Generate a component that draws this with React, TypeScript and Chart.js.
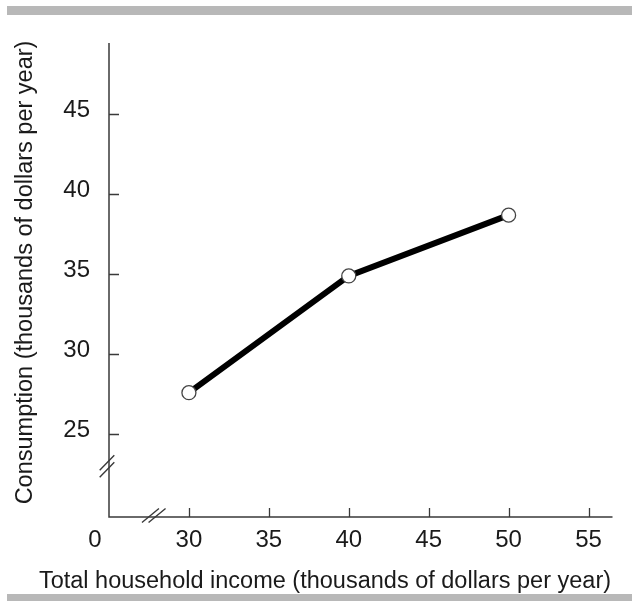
import React, { useEffect, useRef } from 'react';
import { Chart, registerables } from 'chart.js';

Chart.register(...registerables);

// ---- data ----
const incomeValues = [30, 40, 50];
const consumptionValues = [27.6, 34.9, 38.7];
const xTickValues = [30, 35, 40, 45, 50, 55];
const xTickLabels = ['30', '35', '40', '45', '50', '55'];
const yTickValues = [25, 30, 35, 40, 45];
const yTickLabels = ['25', '30', '35', '40', '45'];
const originLabel = '0';
const xBreakValue = 27.8;
const yBreakValue = 23;
const xTitle = 'Total household income (thousands of dollars per year)';
const yTitle = 'Consumption (thousands of dollars per year)';

const FONT_FAMILY = '"Liberation Sans", Arial, sans-serif';
const AXIS_COLOR = '#3a3a3a';
const TEXT_COLOR = '#1a1a1a';

const econAxesPlugin = {
  id: 'econAxes',
  beforeDraw(chart: any) {
    const ctx = chart.ctx as CanvasRenderingContext2D;
    ctx.save();
    ctx.fillStyle = '#ffffff';
    ctx.fillRect(0, 0, chart.width, chart.height);
    ctx.fillStyle = '#b8b8b8';
    ctx.fillRect(7, 6, chart.width - 7, 9);
    ctx.fillRect(7, chart.height - 7, chart.width - 7, 7);
    ctx.restore();
  },
  beforeDatasetsDraw(chart: any) {
    const ctx = chart.ctx as CanvasRenderingContext2D;
    const a = chart.chartArea;
    const xs = chart.scales.x;
    const ys = chart.scales.y;
    ctx.save();

    // axis lines
    ctx.strokeStyle = AXIS_COLOR;
    ctx.lineWidth = 1.5;
    ctx.beginPath();
    ctx.moveTo(a.left, a.top);
    ctx.lineTo(a.left, a.bottom);
    ctx.lineTo(a.right, a.bottom);
    ctx.stroke();

    // tick marks (inward)
    ctx.lineWidth = 1.3;
    ctx.beginPath();
    yTickValues.forEach((v) => {
      const py = Math.round(ys.getPixelForValue(v)) + 0.5;
      ctx.moveTo(a.left, py);
      ctx.lineTo(a.left + 10, py);
    });
    xTickValues.forEach((v) => {
      const px = Math.round(xs.getPixelForValue(v)) + 0.5;
      ctx.moveTo(px, a.bottom);
      ctx.lineTo(px, a.bottom - 9);
    });
    ctx.stroke();

    // axis break marks
    ctx.lineWidth = 1.4;
    ctx.beginPath();
    const bx = xs.getPixelForValue(xBreakValue);
    const by = a.bottom - 1.5;
    [-3.3, 3.3].forEach((o) => {
      ctx.moveTo(bx + o - 8.5, by + 7);
      ctx.lineTo(bx + o + 8.5, by - 7);
    });
    const ybx = a.left - 2;
    const yby = ys.getPixelForValue(yBreakValue);
    [-3.5, 3.5].forEach((o) => {
      ctx.moveTo(ybx - 7.3, yby + o + 7.5);
      ctx.lineTo(ybx + 7.3, yby + o - 7.5);
    });
    ctx.stroke();

    // tick labels
    ctx.fillStyle = TEXT_COLOR;
    ctx.font = `24px ${FONT_FAMILY}`;
    ctx.textBaseline = 'alphabetic';
    ctx.textAlign = 'center';
    xTickValues.forEach((v, i) => {
      ctx.fillText(xTickLabels[i], xs.getPixelForValue(v), a.bottom + 30);
    });
    ctx.fillText(originLabel, a.left - 14, a.bottom + 30);
    ctx.textAlign = 'right';
    yTickValues.forEach((v, i) => {
      ctx.fillText(yTickLabels[i], a.left - 19, ys.getPixelForValue(v) + 3);
    });

    // titles
    ctx.font = `23.5px ${FONT_FAMILY}`;
    ctx.textAlign = 'center';
    ctx.fillText(xTitle, 325, a.bottom + 71);
    ctx.save();
    ctx.translate(32, 272.5);
    ctx.rotate(-Math.PI / 2);
    ctx.fillText(yTitle, 0, 0);
    ctx.restore();

    ctx.restore();
  },
};

export default function App() {
  const canvasRef = useRef<HTMLCanvasElement | null>(null);

  useEffect(() => {
    const canvas = canvasRef.current;
    if (!canvas) return;
    const chart = new Chart(canvas, {
      type: 'scatter',
      data: {
        datasets: [
          {
            data: incomeValues.map((x, i) => ({ x, y: consumptionValues[i] })),
            showLine: true,
            borderColor: '#000000',
            borderWidth: 6,
            pointRadius: 7,
            pointHoverRadius: 7,
            pointBackgroundColor: '#ffffff',
            pointBorderColor: '#444444',
            pointBorderWidth: 1.3,
            clip: false as any,
          } as any,
        ],
      },
      options: {
        animation: false,
        responsive: false,
        maintainAspectRatio: false,
        devicePixelRatio: 1,
        events: [],
        layout: { padding: { left: 109, right: 19.5, top: 43, bottom: 84 } },
        plugins: { legend: { display: false }, tooltip: { enabled: false } },
        scales: {
          x: { type: 'linear', display: false, min: 25, max: 56.5 },
          y: { type: 'linear', display: false, min: 19.83, max: 49.46 },
        },
      },
      plugins: [econAxesPlugin],
    });
    return () => chart.destroy();
  }, []);

  return (
    <div style={{ position: 'absolute', left: 0, top: 0, width: 632, height: 601 }}>
      <canvas ref={canvasRef} width={632} height={601} style={{ display: 'block' }} />
    </div>
  );
}
